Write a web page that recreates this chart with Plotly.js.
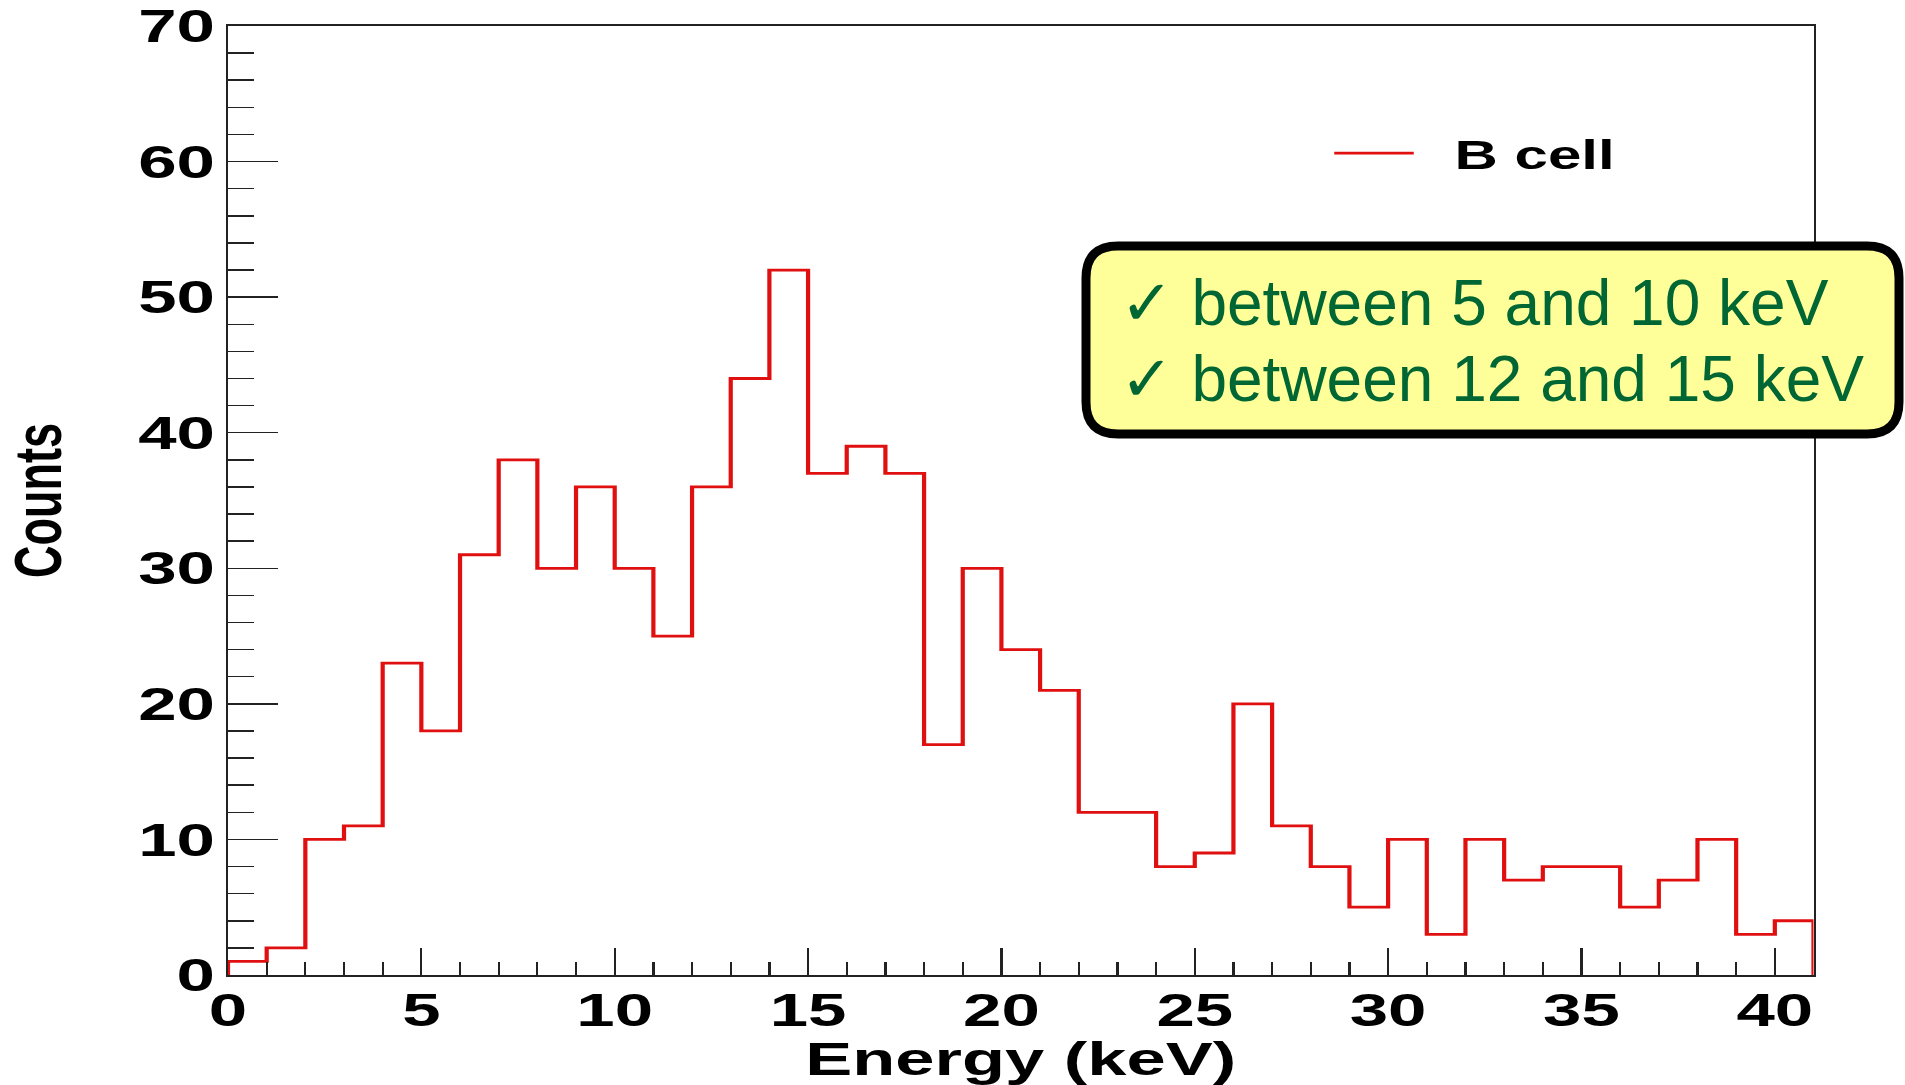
<!DOCTYPE html>
<html>
<head>
<meta charset="utf-8">
<script src="https://cdn.plot.ly/plotly-3.0.1.min.js"></script>
<style>
  html, body { margin: 0; padding: 0; background: #ffffff; overflow: hidden; }
  #wrap { position: relative; width: 1905px; height: 1085px; }
  #chart { position: absolute; left: 0; top: 0; width: 1270px; height: 1085px;
           transform: scaleX(1.5); transform-origin: 0 0; }
  #note { position: absolute; left: 0; top: 0; width: 1905px; height: 1085px; pointer-events: none; }
</style>
</head>
<body>
<div id="wrap">
  <div id="chart"></div>
  <div id="note"></div>
</div>
<script>
// ---- data ----
const binLow = [0,1,2,3,4,5,6,7,8,9,10,11,12,13,14,15,16,17,18,19,20,
                21,22,23,24,25,26,27,28,29,30,31,32,33,34,35,36,37,38,39,40];
const binWidth = 1;
const counts = [1,2,10,11,23,18,31,38,30,36,30,25,36,44,52,37,39,37,17,30,24,
                21,12,12,8,9,20,11,8,5,10,3,10,7,8,8,5,7,10,3,4];
const seriesName = 'B cell';
const xTitle = 'Energy (keV)';
const yTitle = 'Counts';
const noteLines = ['\u2713 between 5 and 10 keV', '\u2713 between 12 and 15 keV'];

// build histogram outline (step) from the bins
const lastEdge = binLow[binLow.length - 1] + binWidth;
const xs = [binLow[0]].concat(binLow, [lastEdge, lastEdge]);
const ys = [0].concat(counts, [counts[counts.length - 1], 0]);

const axisColor = '#222222';
const tickFont = {family: 'Liberation Sans, Arial, sans-serif', size: 46, color: '#000000', weight: 'bold'};

const trace = {
  type: 'scatter', mode: 'lines', x: xs, y: ys, name: '\u00a0\u00a0' + seriesName,
  line: {shape: 'hv', color: '#e01010', width: 2.8},
  hoverinfo: 'skip', showlegend: true
};

const layout = {
  width: 1270, height: 1085,
  margin: {l: 152, r: 61, t: 26, b: 110},
  paper_bgcolor: '#ffffff', plot_bgcolor: '#ffffff',
  showlegend: true,
  legend: {x: 0.693, y: 0.866, xanchor: 'left', yanchor: 'middle',
           bgcolor: 'rgba(0,0,0,0)', borderwidth: 0, itemwidth: 53,
           font: {family: 'Liberation Sans, Arial, sans-serif', size: 40, color: '#000000', weight: 'bold'}},
  xaxis: {
    range: [0, lastEdge], tick0: 0, dtick: 5,
    ticks: 'inside', ticklen: 27, tickwidth: 1.5, tickcolor: axisColor,
    minor: {dtick: 1, ticks: 'inside', ticklen: 13, tickwidth: 1.5, tickcolor: axisColor, showgrid: false},
    showline: true, linecolor: axisColor, linewidth: 1.8, mirror: true,
    showgrid: false, zeroline: false, tickfont: tickFont, ticklabelstandoff: -6,
    title: {text: xTitle, standoff: 12,
            font: {family: 'Liberation Sans, Arial, sans-serif', size: 47, color: '#000000', weight: 'bold'}}
  },
  yaxis: {
    range: [0, 70], tick0: 0, dtick: 10,
    ticks: 'inside', ticklen: 33, tickwidth: 1.5, tickcolor: axisColor,
    minor: {dtick: 2, ticks: 'inside', ticklen: 17, tickwidth: 1.5, tickcolor: axisColor, showgrid: false},
    showline: true, linecolor: axisColor, linewidth: 1.5, mirror: true,
    showgrid: false, zeroline: false, tickfont: tickFont, ticklabelstandoff: -2,
    title: {text: yTitle, standoff: 38,
            font: {family: 'Liberation Sans, Arial, sans-serif', size: 45, color: '#000000', weight: 'bold'}}
  }
};

Plotly.newPlot('chart', [trace], layout, {staticPlot: true, displayModeBar: false});

// ---- annotation box (pixel-unit overlay) ----
function roundRect(x0, y0, x1, y1, r) {
  return 'M' + (x0 + r) + ',' + y0 + ' L' + (x1 - r) + ',' + y0 +
         ' Q' + x1 + ',' + y0 + ' ' + x1 + ',' + (y0 + r) +
         ' L' + x1 + ',' + (y1 - r) +
         ' Q' + x1 + ',' + y1 + ' ' + (x1 - r) + ',' + y1 +
         ' L' + (x0 + r) + ',' + y1 +
         ' Q' + x0 + ',' + y1 + ' ' + x0 + ',' + (y1 - r) +
         ' L' + x0 + ',' + (y0 + r) +
         ' Q' + x0 + ',' + y0 + ' ' + (x0 + r) + ',' + y0 + ' Z';
}
const noteFont = {family: 'Liberation Sans, DejaVu Sans, sans-serif', size: 64, color: '#006633'};
const noteLayout = {
  width: 1905, height: 1085,
  margin: {l: 0, r: 0, t: 0, b: 0},
  paper_bgcolor: 'rgba(0,0,0,0)', plot_bgcolor: 'rgba(0,0,0,0)',
  showlegend: false,
  xaxis: {range: [0, 1905], visible: false, fixedrange: true},
  yaxis: {range: [1085, 0], visible: false, fixedrange: true},
  shapes: [{type: 'path', xref: 'x', yref: 'y', path: roundRect(1086, 246, 1899, 434, 32),
            fillcolor: '#ffff99', line: {color: '#000000', width: 9}}],
  annotations: [
    {x: 1118, y: 303, xref: 'x', yref: 'y', xanchor: 'left', yanchor: 'middle',
     text: noteLines[0], showarrow: false, font: noteFont},
    {x: 1118, y: 379, xref: 'x', yref: 'y', xanchor: 'left', yanchor: 'middle',
     text: noteLines[1], showarrow: false, font: noteFont}
  ]
};
Plotly.newPlot('note', [], noteLayout, {staticPlot: true, displayModeBar: false});
</script>
</body>
</html>
